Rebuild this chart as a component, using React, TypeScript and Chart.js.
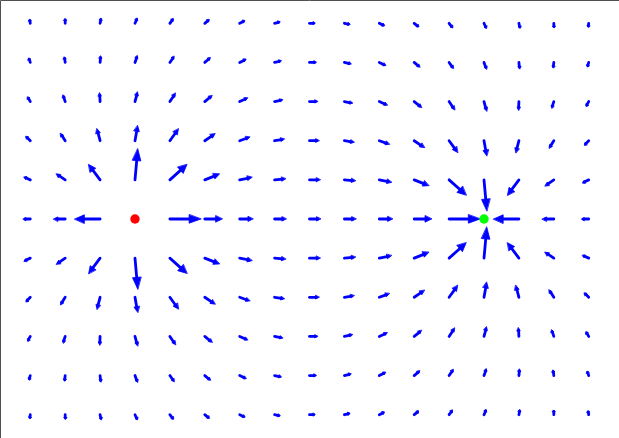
import React, { useEffect, useRef } from 'react';
import { Chart, registerables } from 'chart.js';

Chart.register(...registerables);

// Grid of arrow tails (data units)
const xValues = [-8, -7, -6, -5, -4, -3, -2, -1, 0, 1, 2, 3, 4, 5, 6, 7, 8];
const yValues = [5, 4, 3, 2, 1, 0, -1, -2, -3, -4, -5];

// Field components at each grid point, row by row (top row first)
const uRows: (number | null)[][] = [
  [-0.021, 0.002, 0.037, 0.080, 0.123, 0.159, 0.183, 0.196, 0.200, 0.196, 0.183, 0.159, 0.123, 0.080, 0.037, 0.002, -0.021],
  [-0.050, -0.025, 0.022, 0.086, 0.152, 0.200, 0.228, 0.240, 0.244, 0.240, 0.228, 0.200, 0.152, 0.086, 0.022, -0.025, -0.050],
  [-0.094, -0.075, -0.015, 0.092, 0.200, 0.263, 0.287, 0.293, 0.294, 0.293, 0.287, 0.263, 0.200, 0.092, -0.015, -0.075, -0.094],
  [-0.156, -0.169, -0.112, 0.096, 0.306, 0.368, 0.363, 0.350, 0.345, 0.350, 0.363, 0.368, 0.306, 0.096, -0.112, -0.169, -0.156],
  [-0.224, -0.317, -0.410, 0.099, 0.610, 0.523, 0.440, 0.398, 0.385, 0.398, 0.440, 0.523, 0.610, 0.099, -0.410, -0.317, -0.224],
  [-0.256, -0.417, -0.909, null, 1.111, 0.625, 0.476, 0.417, 0.400, 0.417, 0.476, 0.625, 1.111, null, -0.909, -0.417, -0.256],
  [-0.224, -0.317, -0.410, 0.099, 0.610, 0.523, 0.440, 0.398, 0.385, 0.398, 0.440, 0.523, 0.610, 0.099, -0.410, -0.317, -0.224],
  [-0.156, -0.169, -0.112, 0.096, 0.306, 0.368, 0.363, 0.350, 0.345, 0.350, 0.363, 0.368, 0.306, 0.096, -0.112, -0.169, -0.156],
  [-0.094, -0.075, -0.015, 0.092, 0.200, 0.263, 0.287, 0.293, 0.294, 0.293, 0.287, 0.263, 0.200, 0.092, -0.015, -0.075, -0.094],
  [-0.050, -0.025, 0.022, 0.086, 0.152, 0.200, 0.228, 0.240, 0.244, 0.240, 0.228, 0.200, 0.152, 0.086, 0.022, -0.025, -0.050],
  [-0.021, 0.002, 0.037, 0.080, 0.123, 0.159, 0.183, 0.196, 0.200, 0.196, 0.183, 0.159, 0.123, 0.080, 0.037, 0.002, -0.021],
];

const vRows: (number | null)[][] = [
  [0.121, 0.143, 0.158, 0.160, 0.145, 0.116, 0.080, 0.040, 0, -0.040, -0.080, -0.116, -0.145, -0.160, -0.158, -0.143, -0.121],
  [0.138, 0.175, 0.206, 0.216, 0.194, 0.150, 0.099, 0.048, 0, -0.048, -0.099, -0.150, -0.194, -0.216, -0.206, -0.175, -0.138],
  [0.150, 0.211, 0.277, 0.306, 0.267, 0.190, 0.115, 0.053, 0, -0.053, -0.115, -0.190, -0.267, -0.306, -0.277, -0.211, -0.150],
  [0.142, 0.237, 0.384, 0.481, 0.377, 0.221, 0.116, 0.050, 0, -0.050, -0.116, -0.221, -0.377, -0.481, -0.384, -0.237, -0.142],
  [0.094, 0.193, 0.492, 0.990, 0.488, 0.185, 0.080, 0.032, 0, -0.032, -0.080, -0.185, -0.488, -0.990, -0.492, -0.193, -0.094],
  [0, 0, 0, null, 0, 0, 0, 0, 0, 0, 0, 0, 0, null, 0, 0, 0],
  [-0.094, -0.193, -0.492, -0.990, -0.488, -0.185, -0.080, -0.032, 0, 0.032, 0.080, 0.185, 0.488, 0.990, 0.492, 0.193, 0.094],
  [-0.142, -0.237, -0.384, -0.481, -0.377, -0.221, -0.116, -0.050, 0, 0.050, 0.116, 0.221, 0.377, 0.481, 0.384, 0.237, 0.142],
  [-0.150, -0.211, -0.277, -0.306, -0.267, -0.190, -0.115, -0.053, 0, 0.053, 0.115, 0.190, 0.267, 0.306, 0.277, 0.211, 0.150],
  [-0.138, -0.175, -0.206, -0.216, -0.194, -0.150, -0.099, -0.048, 0, 0.048, 0.099, 0.150, 0.194, 0.216, 0.206, 0.175, 0.138],
  [-0.121, -0.143, -0.158, -0.160, -0.145, -0.116, -0.080, -0.040, 0, 0.040, 0.080, 0.116, 0.145, 0.160, 0.158, 0.143, 0.121],
];

// Charges
const sourceX = [-5];
const sourceY = [0];
const sinkX = [5];
const sinkY = [0];

const ARROW_SCALE = 0.8; // data units per field unit
const SHAFT_W = 2.8; // px
const ARROW_COLOR = '#0000ff';

function drawArrow(ctx: CanvasRenderingContext2D, x0: number, y0: number, x1: number, y1: number) {
  const dx = x1 - x0;
  const dy = y1 - y0;
  const L = Math.hypot(dx, dy);
  if (L < 0.01) return;
  const ux = dx / L;
  const uy = dy / L;
  const px = -uy;
  const py = ux;
  const headLen = Math.min(12, 0.38 * L);
  const headHalf = Math.min(4.2, Math.max(1.5, 0.18 * L));
  const shaftEnd = Math.max(0, L - headLen * 0.7);
  // shaft
  ctx.beginPath();
  ctx.moveTo(x0, y0);
  ctx.lineTo(x0 + ux * shaftEnd, y0 + uy * shaftEnd);
  ctx.lineWidth = SHAFT_W;
  ctx.lineCap = 'round';
  ctx.stroke();
  // head
  const bx = x1 - ux * headLen;
  const by = y1 - uy * headLen;
  ctx.beginPath();
  ctx.moveTo(x1, y1);
  ctx.lineTo(bx + px * headHalf, by + py * headHalf);
  ctx.lineTo(bx - px * headHalf, by - py * headHalf);
  ctx.closePath();
  ctx.lineWidth = 0.8;
  ctx.lineJoin = 'round';
  ctx.fill();
  ctx.stroke();
}

export default function App() {
  const ref = useRef<HTMLCanvasElement>(null);

  useEffect(() => {
    document.body.style.margin = '0';
    const arrowPlugin = {
      id: 'quiverArrows',
      beforeDatasetsDraw(chart: any) {
        const ctx = chart.ctx as CanvasRenderingContext2D;
        const xs = chart.scales.x;
        const ys = chart.scales.y;
        ctx.save();
        ctx.fillStyle = ARROW_COLOR;
        ctx.strokeStyle = ARROW_COLOR;
        yValues.forEach((yv, r) => {
          xValues.forEach((xv, c) => {
            const u = uRows[r][c];
            const v = vRows[r][c];
            if (u == null || v == null) return;
            const x0 = xs.getPixelForValue(xv);
            const y0 = ys.getPixelForValue(yv);
            const x1 = xs.getPixelForValue(xv + ARROW_SCALE * u);
            const y1 = ys.getPixelForValue(yv + ARROW_SCALE * v);
            drawArrow(ctx, x0, y0, x1, y1);
          });
        });
        ctx.restore();
      },
    };
    const framePlugin = {
      id: 'frame',
      afterDraw(chart: any) {
        const ctx = chart.ctx as CanvasRenderingContext2D;
        ctx.save();
        ctx.strokeStyle = 'rgb(80,80,80)';
        ctx.lineWidth = 1;
        ctx.beginPath();
        ctx.moveTo(0.5, chart.height);
        ctx.lineTo(0.5, 0.5);
        ctx.lineTo(chart.width, 0.5);
        ctx.stroke();
        ctx.restore();
      },
    };
    const chart = new Chart(ref.current as HTMLCanvasElement, {
      type: 'scatter',
      data: {
        datasets: [
          {
            label: 'source',
            data: sourceX.map((x, i) => ({ x, y: sourceY[i] })),
            pointRadius: 4.7,
            backgroundColor: '#ff0000',
            borderWidth: 0,
          },
          {
            label: 'sink',
            data: sinkX.map((x, i) => ({ x, y: sinkY[i] })),
            pointRadius: 4.7,
            backgroundColor: '#00ff00',
            borderWidth: 0,
          },
        ],
      },
      options: {
        responsive: false,
        animation: false,
        devicePixelRatio: 1,
        events: [],
        layout: { padding: 0 },
        plugins: { legend: { display: false }, tooltip: { enabled: false } },
        scales: {
          x: { type: 'linear', min: -8.733, max: 8.733, display: false },
          y: { type: 'linear', min: -5.475, max: 5.475, display: false },
        },
      },
      plugins: [arrowPlugin, framePlugin],
    });
    return () => chart.destroy();
  }, []);

  return (
    <div style={{ position: 'absolute', left: 0, top: 0, width: 619, height: 438, background: '#ffffff' }}>
      <canvas ref={ref} width={619} height={438} style={{ display: 'block' }} />
    </div>
  );
}
